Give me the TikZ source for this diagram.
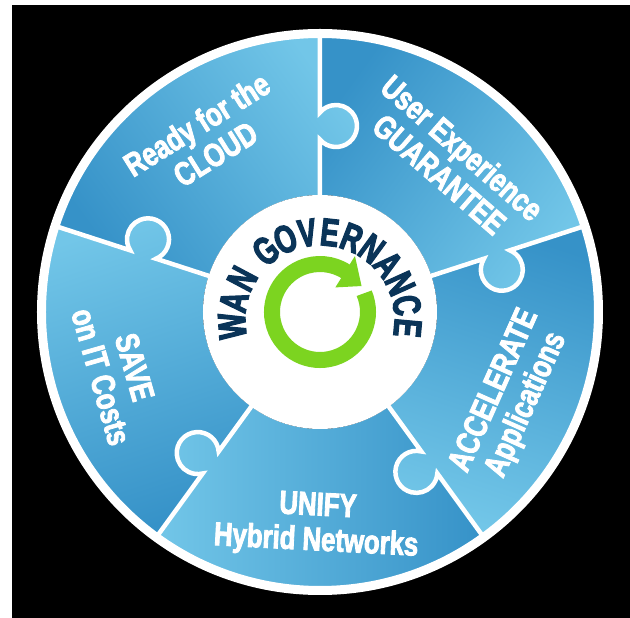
\documentclass[tikz,border=0pt]{standalone}
\usepackage{fontspec}
\usetikzlibrary{calc}
\newfontfamily\cond{Liberation Sans}[FakeStretch=0.78, BoldFeatures={FakeBold=2.5}]
\newfontfamily\condc{Liberation Sans}[FakeStretch=0.7, BoldFeatures={FakeBold=3}]
\definecolor{pdark}{RGB}{54,146,200}
\definecolor{plight}{RGB}{114,198,232}
\definecolor{navy}{RGB}{10,52,88}
\definecolor{lime}{RGB}{124,212,32}
\tikzset{
  label/.style={text=white, font=\cond\bfseries\fontsize{33}{35}\selectfont, align=center, inner sep=0pt},
  letter/.style={text=navy, font=\condc\bfseries\fontsize{39}{39}\selectfont, inner sep=0pt},
  sep/.style={white, line width=4.5pt}
}
\begin{document}
\begin{tikzpicture}[x=1pt,y=1pt]
\useasboundingbox (-320,-306) rectangle (310,312);
\fill[white] (-320,-306) rectangle (310,312);
\fill[black] (-308,-306) rectangle (310,307);
\def\ri{117}\def\Ro{275}\def\rk{21}\def\dd{16}\def\uo{186}
\pgfmathsetmacro{\w}{sqrt(\rk*\rk-\dd*\dd)}
\pgfmathsetmacro{\bet}{atan(\dd/\w)}
\pgfmathsetmacro{\ua}{\uo-\w}
\pgfmathsetmacro{\ub}{\uo+\w}
% pieces
\foreach \a/\al in {162/126, 90/54, 18/-18, -54/-90, -126/-162}{
  \shade[top color=pdark, bottom color=plight, shading angle=\al]
    ({\a}:\ri) -- ({\a}:\ua)
    arc[start angle={\a+180-\bet}, end angle={\a+360+\bet}, radius=\rk]
    -- ({\a}:\Ro) arc[start angle={\a}, end angle={\a-72}, radius=\Ro]
    -- ({\a-72}:\ub)
    arc[start angle={\a-72+360+\bet}, end angle={\a-72+180-\bet}, radius=\rk]
    -- ({\a-72}:\ri) arc[start angle={\a-72}, end angle={\a}, radius=\ri] -- cycle;
}
% separators
\foreach \a in {162, 90, 18, -54, -126}{
  \draw[sep] ({\a}:\ri-5) -- ({\a}:\ua)
    arc[start angle={\a+180-\bet}, end angle={\a+360+\bet}, radius=\rk]
    -- ({\a}:\Ro+3);
}
% outer ring and inner disk
\draw[white, line width=9pt] (0,0) circle[radius=278.5];
\fill[white] (0,0) circle[radius=117];
% labels
\node[label, rotate=32] (cloud) at (-114,173) {Ready for the\\CLOUD};
\node[label, rotate=-41] (ux) at (131,151) {User Experience\\GUARANTEE};
\node[label, rotate=66] (acc) at (191,-86) {ACCELERATE\\Applications};
\node[label, rotate=-3] (unify) at (-3,-213) {UNIFY\\Hybrid Networks};
\node[label, rotate=-74] (save) at (-202,-60) {SAVE\\on IT Costs};
% center title
\foreach \ang/\ch [count=\i] in {184/W,168/A,152/N,128/G,113.2/O,98.4/V,83.6/E,68.8/R,54/N,39.2/A,24.4/N,9.6/C,-5.2/E}{
  \node[letter, rotate=\ang-90] (t\i) at ($(0,-8)+(\ang:88)$) {\ch};
}
% green cycle arrow
\draw[lime, line width=16pt] (23:48) arc[start angle=23, end angle=-303, radius=48];
\fill[lime] (58:29) -- (58:66) -- (32:49) -- cycle;
\end{tikzpicture}
\end{document}
